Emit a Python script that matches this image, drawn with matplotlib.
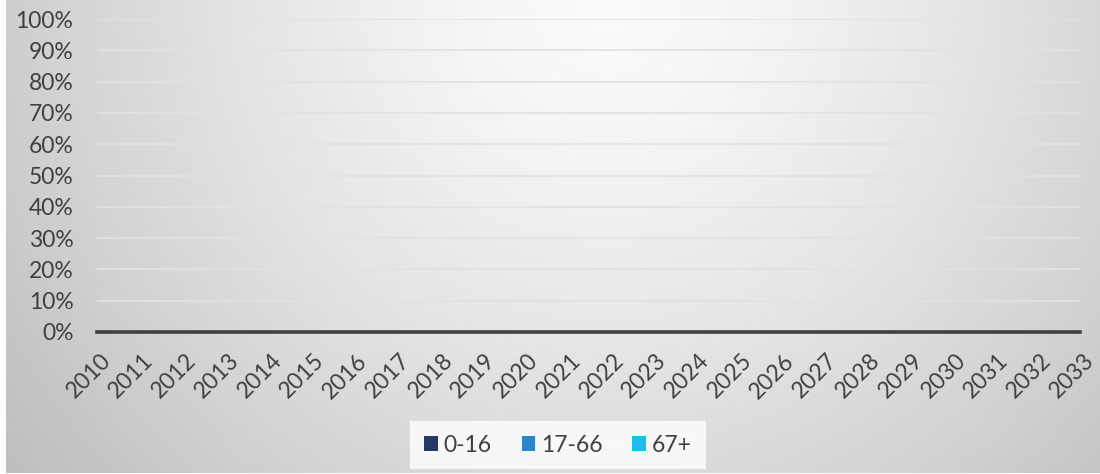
import numpy as np
import matplotlib
matplotlib.use("Agg")
import matplotlib.pyplot as plt
from matplotlib.patches import Patch
from matplotlib.transforms import ScaledTranslation

plt.rcParams['font.family'] = ['Lato', 'DejaVu Sans']

# Data (share of population by age group, all empty in the source chart)
years = [str(y) for y in range(2010, 2034)]
age_0_16 = [0] * 24
age_17_66 = [0] * 24
age_67_plus = [0] * 24
series_names = ['0-16', '17-66', '67+']
colors = ['#253864', '#2887C8', '#21BBEE']

W, H, DPI = 1100, 474, 100
fig = plt.figure(figsize=(W / DPI, H / DPI), dpi=DPI)

# radial grey background, light at the top centre
bg = fig.add_axes([6 / W, 1 / H, 1 - 6 / W, 1 - 1 / H], zorder=-10)
yy, xx = np.mgrid[0:473, 0:1094]
r = np.sqrt(((xx - 600) / 520.0) ** 2 + (yy / 520.0) ** 2)
shade = np.clip(252 - 38 * r ** 1.3, 190, 255) / 255.0
bg.imshow(np.dstack([shade] * 3), aspect='auto', interpolation='bilinear')
bg.axis('off')

ax = fig.add_axes([97 / W, 142 / H, (1080 - 97) / W, (332 - 19) / H])
ax.patch.set_alpha(0)

x = np.arange(len(years))
vals = np.array([age_0_16, age_17_66, age_67_plus], dtype=float)
tot = vals.sum(axis=0)
share = np.divide(vals, tot, out=np.zeros_like(vals), where=tot > 0)
ax.stackplot(x, share, colors=colors, labels=series_names)

ax.set_xlim(0, len(years) - 1)
ax.set_ylim(0, 1)
ax.set_yticks(np.linspace(0, 1, 11))
ax.set_yticklabels([f'{int(v)}%' for v in np.linspace(0, 100, 11)])
ax.grid(axis='y', color='#e2e2e2', linewidth=1.3)
ax.set_axisbelow(True)
for s in ['top', 'right', 'left']:
    ax.spines[s].set_visible(False)
ax.spines['bottom'].set_color('#404040')
ax.spines['bottom'].set_linewidth(2.6)
ax.spines['bottom'].set_zorder(5)

ax.set_xticks(x)
ax.set_xticklabels(years, rotation=45, ha='right', va='top', rotation_mode='anchor')
ax.tick_params(axis='both', length=0, labelsize=16.5, labelcolor='#404040')
ax.tick_params(axis='y', pad=17)
ax.tick_params(axis='x', pad=13)
off = ScaledTranslation(3 / DPI, 0, fig.dpi_scale_trans)
for lbl in ax.get_xticklabels():
    lbl.set_transform(lbl.get_transform() + off)

handles = [Patch(facecolor=c, edgecolor='none') for c in colors]
leg = fig.legend(handles, series_names, loc='center', bbox_to_anchor=(558 / W, 29 / H),
                 ncol=3, frameon=True, fontsize=16.5, handlelength=0.6, handleheight=0.6,
                 handletextpad=0.25, columnspacing=1.3, borderpad=0.6, borderaxespad=0,
                 fancybox=False)
leg.get_frame().set_facecolor('white')
leg.get_frame().set_edgecolor('none')
for t in leg.get_texts():
    t.set_color('#404040')

fig.savefig('out.png', dpi=DPI)
